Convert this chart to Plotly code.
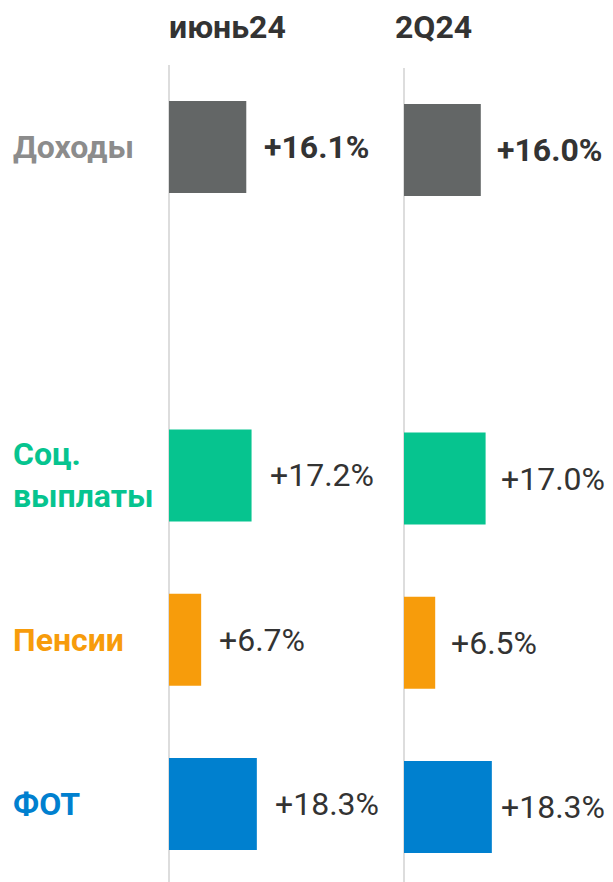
import plotly.graph_objects as go

categories = ["Доходы", "Соц. выплаты", "Пенсии", "ФОТ"]
category_labels = ["Доходы", "Соц.<br>выплаты", "Пенсии", "ФОТ"]
periods = ["июнь24", "2Q24"]
values_jun = [16.1, 17.2, 6.7, 18.3]
values_2q = [16.0, 17.0, 6.5, 18.3]
value_text_jun = ["+16.1%", "+17.2%", "+6.7%", "+18.3%"]
value_text_2q = ["+16.0%", "+17.0%", "+6.5%", "+18.3%"]

colors = ["#636666", "#06c48f", "#f79c0b", "#0080cf"]
label_colors = ["#8c8c8c", "#06c48f", "#f79c0b", "#0080cf"]
# spacer between Доходы and the components
axis_order = ["Доходы", "spacer", "Соц. выплаты", "Пенсии", "ФОТ"]

# gap between bar end and its label, px (last one squeezed to fit the page)
label_gap_jun = [16, 16, 16, 16]
label_gap_2q = [14, 13, 14, 7]

# page has an 8px body margin, so the figure starts at (8, 8) in the window
OFF = 8
W, H = 613 - OFF, 882 - OFF
FONT = "Roboto"


def px_x(p):
    return (p - OFF) / W


def px_y(p):
    return 1 - (p - OFF) / H


fig = go.Figure()

series = [(values_jun, value_text_jun, "x", "y", label_gap_jun),
          (values_2q, value_text_2q, "x2", "y2", label_gap_2q)]
for vals, texts, xa, ya, gaps in series:
    fig.add_trace(go.Bar(
        x=vals,
        y=categories,
        orientation="h",
        marker=dict(color=colors, line_width=0),
        width=0.56,
        xaxis=xa,
        yaxis=ya,
        showlegend=False,
        hoverinfo="skip",
    ))
    for i, (v, t) in enumerate(zip(vals, texts)):
        bold = i == 0
        fig.add_annotation(
            x=v, y=categories[i], xref=xa, yref=ya,
            text=f"<b>{t}</b>" if bold else t,
            showarrow=False, xanchor="left", xshift=gaps[i],
            font=dict(family=FONT, size=32, color="#333333"),
        )

for i, lab in enumerate(category_labels):
    fig.add_annotation(
        x=px_x(11), y=categories[i], xref="paper", yref="y",
        text=f"<b>{lab}</b>", showarrow=False, xanchor="left", align="left",
        font=dict(family=FONT, size=32, color=label_colors[i]),
    )

# column headers
for name, xc in zip(periods, [227, 433]):
    fig.add_annotation(
        x=px_x(xc), y=px_y(27), xref="paper", yref="paper",
        text=f"<b>{name}</b>", showarrow=False, xanchor="center", yanchor="middle",
        font=dict(family=FONT, size=32, color="#333333"),
    )

px_per_unit = 4.8
x_span = 40
common_x = dict(range=[0, x_span], showgrid=False, showticklabels=False, ticks="",
                zeroline=True, zerolinecolor="#dddddd", zerolinewidth=2, fixedrange=True)
common_y = dict(type="category", categoryorder="array", categoryarray=axis_order,
                showgrid=False, showticklabels=False, ticks="", zeroline=False)

x1_start = px_x(169)
x2_start = px_x(404)
span = px_per_unit * x_span / W

step = 164.25


def y_range(top_px, first_center_px):
    # axis spans from top_px (window) down to the bottom of the figure
    bottom = H + OFF
    return [(bottom - first_center_px) / step, (top_px - first_center_px) / step]


fig.update_layout(
    width=W, height=H,
    margin=dict(l=0, r=0, t=0, b=0),
    paper_bgcolor="white", plot_bgcolor="white",
    xaxis=dict(domain=[x1_start, x1_start + span], anchor="y", **common_x),
    xaxis2=dict(domain=[x2_start, min(x2_start + span, 1)], anchor="y2", **common_x),
    yaxis=dict(domain=[0, px_y(65)], anchor="x", range=y_range(65, 147), **common_y),
    yaxis2=dict(domain=[0, px_y(68)], anchor="x2", range=y_range(68, 150), **common_y),
)

fig.write_html("out.html")
